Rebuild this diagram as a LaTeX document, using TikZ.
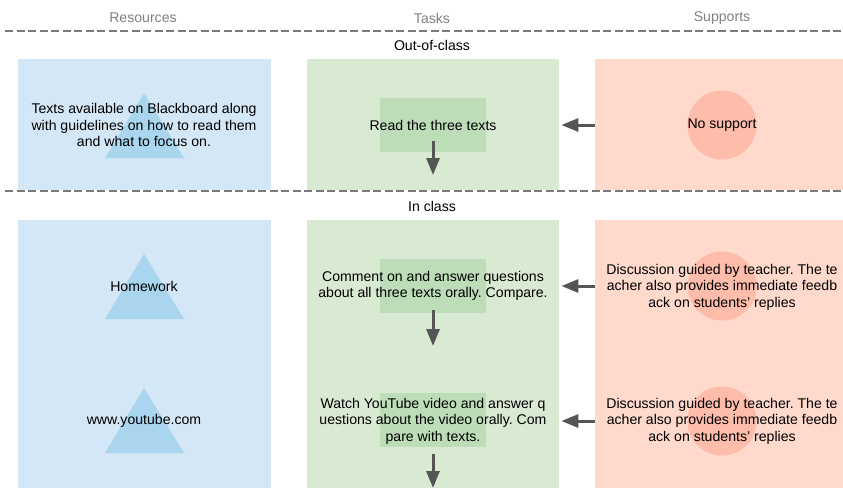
\documentclass[tikz,border=0pt]{standalone}
\usepackage{fontspec}
\setmainfont{Liberation Sans}
\usetikzlibrary{arrows.meta,calc}
\definecolor{bluepanel}{HTML}{D4E7F6}
\definecolor{bluetri}{HTML}{A9D5EE}
\definecolor{greenpanel}{HTML}{D9EAD3}
\definecolor{greenrect}{HTML}{BDDDB9}
\definecolor{redpanel}{HTML}{FFD9CC}
\definecolor{redcirc}{HTML}{FEBCAA}
\definecolor{arrowgray}{HTML}{555555}
\definecolor{linegray}{HTML}{7A7A7A}
\definecolor{headgray}{HTML}{808080}
\begin{document}
\frenchspacing
\begin{tikzpicture}[x=1pt,y=-1pt,
  every node/.style={font=\fontsize{14.1}{16.6}\selectfont},
  panel/.style={rectangle,draw=none,inner sep=0pt,anchor=north west},
  txt/.style={align=center,inner sep=0pt},
  head/.style={txt,text=headgray},
  sep/.style={draw=linegray,line width=1.6pt,dash pattern=on 8pt off 3.5pt},
  conn/.style={draw=arrowgray,line width=3pt,-{Triangle[length=17pt,width=13pt]}},
  tri/.style={fill=bluetri},
  rectbox/.style={rectangle,fill=greenrect,minimum width=106pt,minimum height=54pt,inner sep=0pt},
  circ/.style={circle,fill=redcirc,minimum size=69pt,inner sep=0pt},
]
\useasboundingbox (0,0) rectangle (843,488);
% headers
\node[head] (hres) at (143,18) {Resources};
\node[head] (htask) at (432,18) {Tasks};
\node[head] (hsup) at (722,18) {Supports};
\draw[sep] (5,31) -- (843,31);
\node[txt] (outclass) at (432,45) {Out-of-class};
% top panels
\node[panel,fill=bluepanel,minimum width=253pt,minimum height=131pt] (bTop) at (18,59) {};
\node[panel,fill=greenpanel,minimum width=252pt,minimum height=131pt] (gTop) at (307,59) {};
\node[panel,fill=redpanel,minimum width=248pt,minimum height=131pt] (rTop) at (595,59) {};
\draw[sep] (5,191) -- (843,191);
\node[txt] (inclass) at (432,206) {In class};
% lower panels
\node[panel,fill=bluepanel,minimum width=253pt,minimum height=268pt] (bLow) at (18,220) {};
\node[panel,fill=greenpanel,minimum width=252pt,minimum height=268pt] (gLow) at (307,220) {};
\node[panel,fill=redpanel,minimum width=248pt,minimum height=268pt] (rLow) at (595,220) {};
% triangles
\fill[tri] (144,93) -- (184,158) -- (105,158) -- cycle;
\fill[tri] (144,254) -- (184,319) -- (105,319) -- cycle;
\fill[tri] (144,388) -- (184,453) -- (105,453) -- cycle;
% green rects
\node[rectbox] (t1box) at (433,125) {};
\node[rectbox] (t2box) at (433,286) {};
\node[rectbox] (t3box) at (433,420) {};
% circles
\node[circ] (s1c) at (722,125) {};
\node[circ] (s2c) at (722,286) {};
\node[circ] (s3c) at (722,421) {};
% texts
\node[txt] (r1) at (144,125) {Texts available on Blackboard along\\with guidelines on how to read them\\and what to focus on.};
\node[txt] (r2) at (144,286) {Homework};
\node[txt] (r3) at (144,421) {www.youtube.com};
\node[txt] (t1) at (433,125) {Read the three texts};
\node[txt] (t2) at (433,286) {Comment on and answer questions\\about all three texts orally. Compare.};
\node[txt] (t3) at (433,421) {Watch YouTube video and answer q\\uestions about the video orally. Com\\pare with texts.};
\node[txt] (s1) at (722,125) {No support};
\node[txt] (s2) at (722,287) {Discussion guided by teacher. The te\\acher also provides immediate feedb\\ack on students' replies};
\node[txt] (s3) at (722,421) {Discussion guided by teacher. The te\\acher also provides immediate feedb\\ack on students' replies};
% down arrows
\coordinate (d1s) at (433,141); \coordinate (d1e) at (433,175);
\coordinate (d2s) at (433,310); \coordinate (d2e) at (433,346);
\coordinate (d3s) at (433,454); \coordinate (d3e) at (433,488);
\draw[conn] (d1s) -- (d1e);
\draw[conn] (d2s) -- (d2e);
\draw[conn] (d3s) -- (d3e);
% left arrows
\draw[conn] (s1c -| rTop.west) -- ($(s1c -| gTop.east)+(2,0)$);
\draw[conn] (s2c -| rLow.west) -- ($(s2c -| gLow.east)+(2,0)$);
\draw[conn] (s3c -| rLow.west) -- ($(s3c -| gLow.east)+(2,0)$);
\end{tikzpicture}
\end{document}
